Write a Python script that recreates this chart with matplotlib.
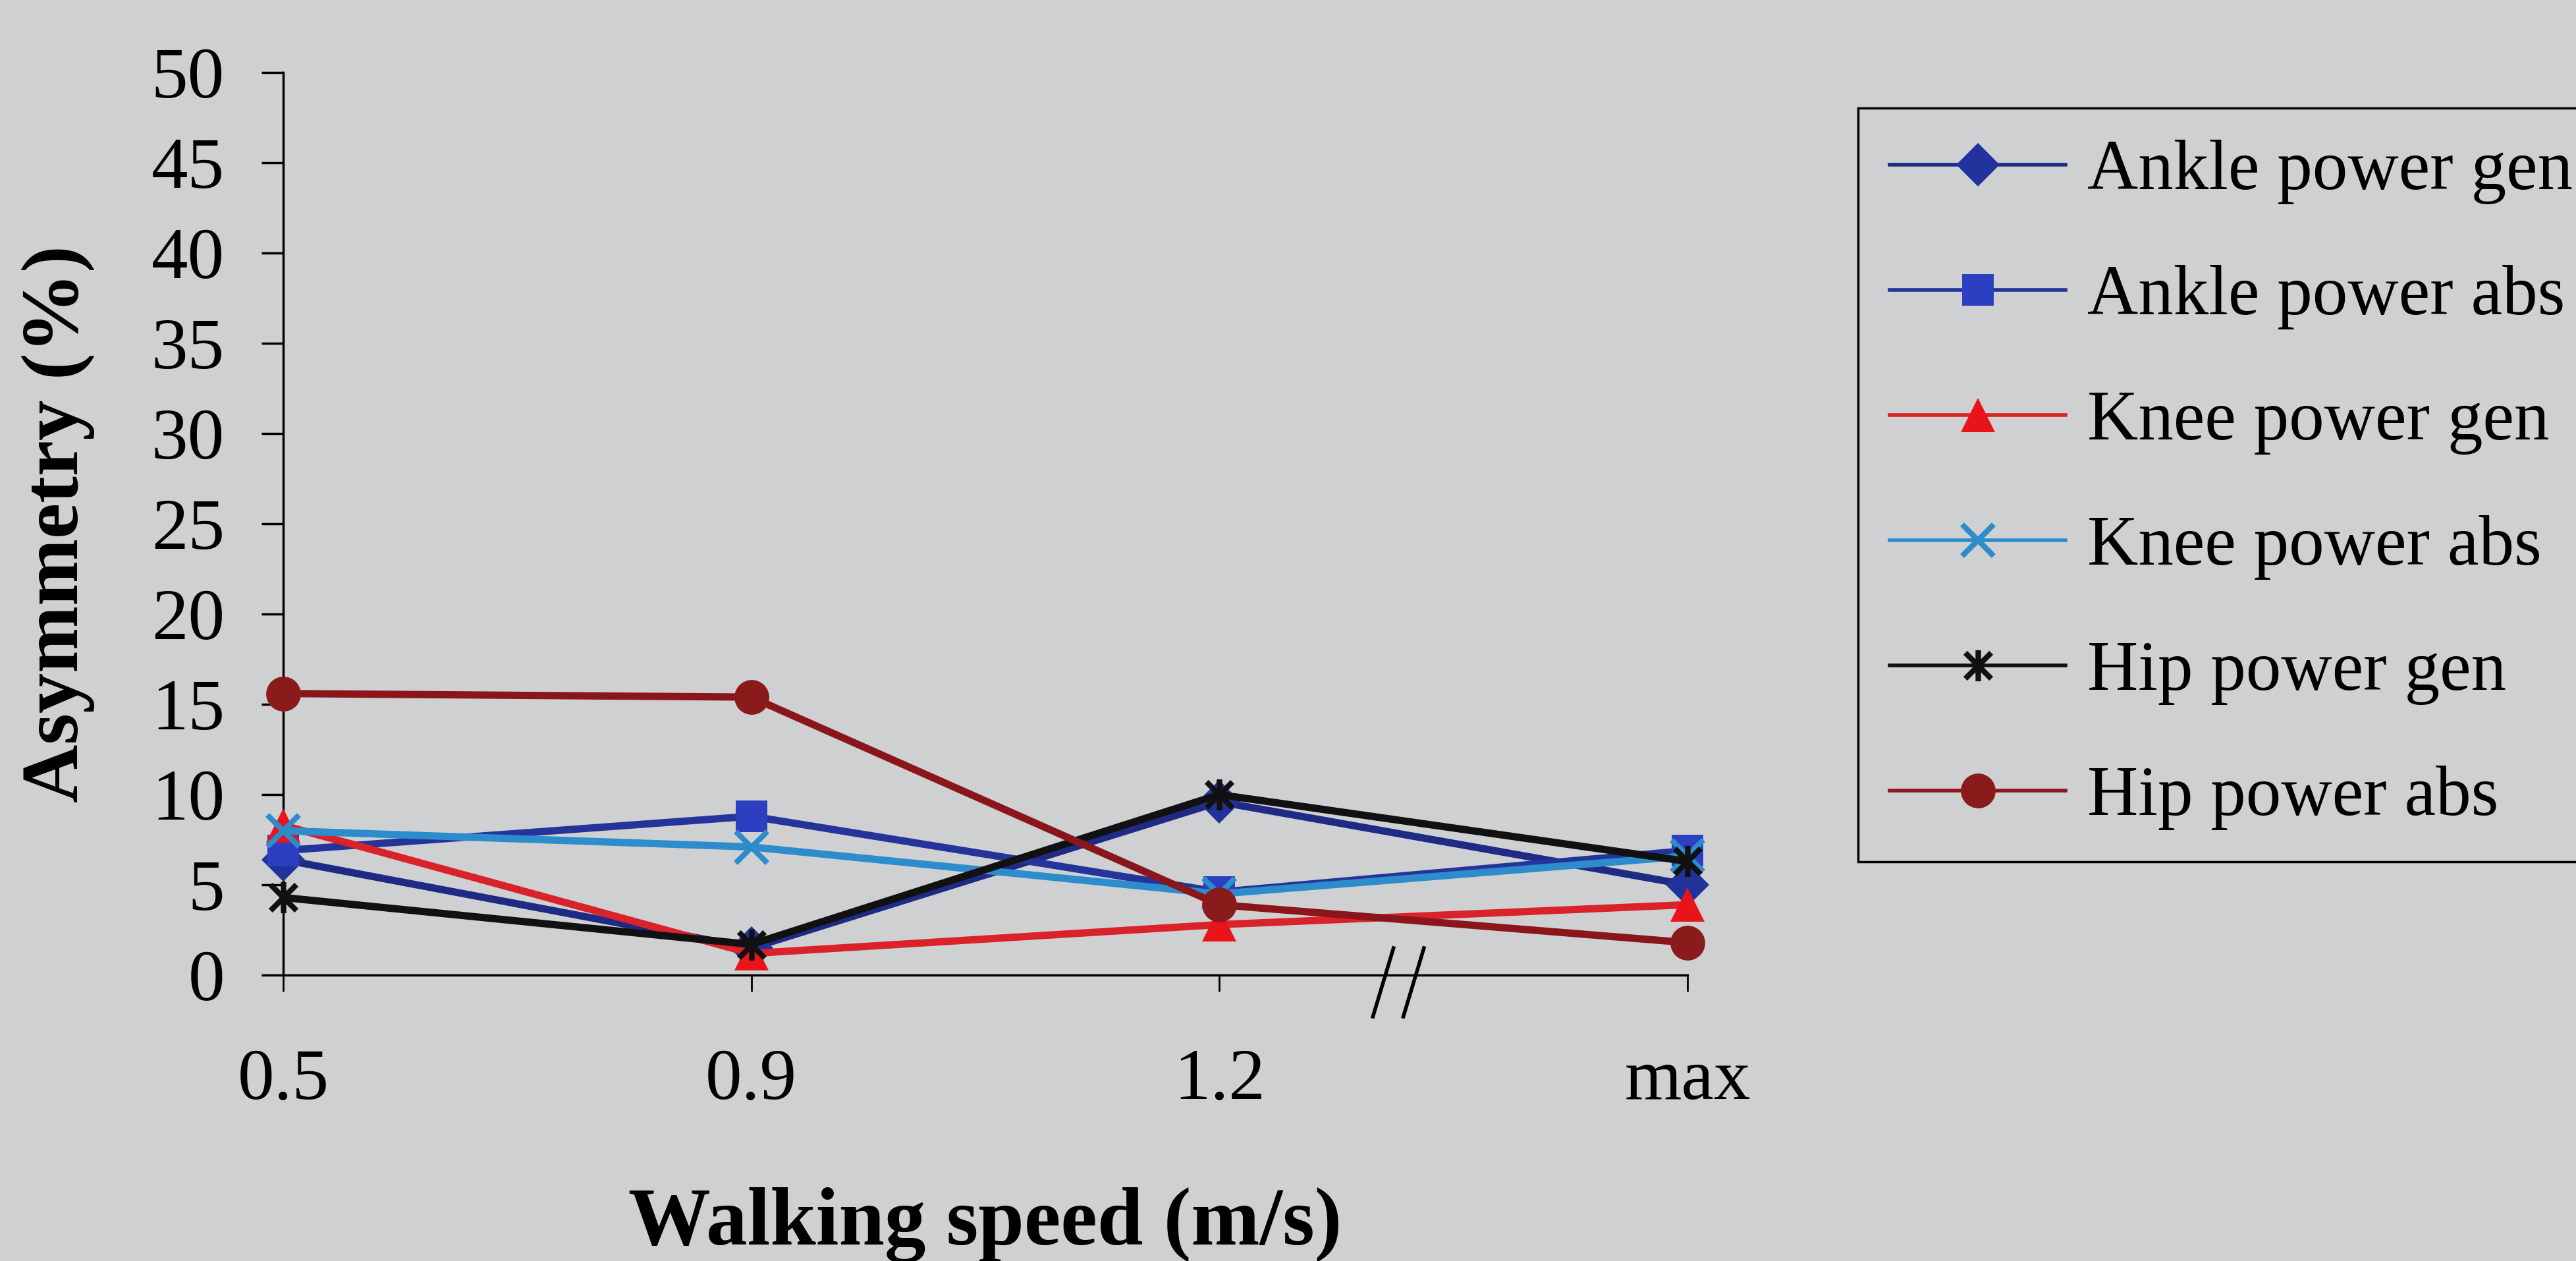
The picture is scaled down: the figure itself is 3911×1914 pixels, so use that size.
import numpy as np
import matplotlib.pyplot as plt
from matplotlib.path import Path

# data
speeds = ["0.5", "0.9", "1.2", "max"]
ankle_gen = [6.4, 1.5, 9.6, 5.0]
ankle_abs = [6.9, 8.8, 4.6, 6.9]
knee_gen = [8.3, 1.2, 2.8, 3.9]
knee_abs = [8.0, 7.1, 4.5, 6.6]
hip_gen = [4.3, 1.7, 10.0, 6.3]
hip_abs = [15.6, 15.4, 3.9, 1.8]
labels = ["Ankle power gen", "Ankle power abs", "Knee power gen",
          "Knee power abs", "Hip power gen", "Hip power abs"]

# excel style star: x with a vertical bar
star = Path([(-1, -1), (1, 1), (-1, 1), (1, -1), (0, -1.2), (0, 1.2)],
            [Path.MOVETO, Path.LINETO, Path.MOVETO, Path.LINETO, Path.MOVETO, Path.LINETO])

bg = "#cfd0d2"
plt.rcParams["font.family"] = ["Liberation Serif", "DejaVu Serif"]

fig = plt.figure(figsize=(39.12, 19.14), dpi=100, facecolor=bg)
ax = fig.add_axes([0.1099, 0.2267, 0.5450, 0.7158])
ax.set_facecolor(bg)

x = np.arange(len(speeds))
styles = [
    (ankle_gen, "#1f2a84", "D", "#22329c", 34, 0),
    (ankle_abs, "#25349a", "s", "#2c3fc0", 34, 0),
    (knee_gen, "#d9222a", "^", "#e8141a", 38, 0),
    (knee_abs, "#2d8ccc", "x", "#2d8ccc", 34, 6),
    (hip_gen, "#111111", star, "#111111", 34, 6),
    (hip_abs, "#8a161c", "o", "#8b1a1a", 38, 0),
]
for (vals, col, mk, mcol, ms, mew), lab in zip(styles, labels):
    ax.plot(x, vals, color=col, lw=8, marker=mk, markersize=ms,
            markerfacecolor=mcol, markeredgecolor=mcol,
            markeredgewidth=mew, label=lab, clip_on=False, zorder=3)

ax.set_xlim(0, 3)
ax.set_ylim(0, 50)
ax.set_yticks(np.arange(0, 51, 5))
ax.set_xticks(x)
ax.set_xticklabels(speeds)
for s in ["top", "right"]:
    ax.spines[s].set_visible(False)
for s in ["left", "bottom"]:
    ax.spines[s].set_linewidth(2.5)
ax.tick_params(axis="y", direction="out", length=24, width=2.5, pad=40, labelsize=80)
ax.tick_params(axis="x", direction="out", length=18, width=2, pad=62, labelsize=80)

ax.set_xlabel("Walking speed (m/s)", fontsize=90, fontweight="bold", labelpad=80)
ax.set_ylabel("Asymmetry (%)", fontsize=88, fontweight="bold", labelpad=62)

# axis break mark between 1.2 and max
for bx in [2.35, 2.415]:
    ax.plot([bx + 0.022, bx - 0.022], [1.5, -2.3], color="black", lw=4,
            clip_on=False, zorder=4)

leg = fig.legend(loc="upper left", bbox_to_anchor=(2821 / 3912, 1 - 164 / 1914),
                 fontsize=77, frameon=True, fancybox=False, edgecolor="black",
                 facecolor=bg, framealpha=1, handlelength=2.5, handletextpad=0.3,
                 labelspacing=0.86, borderpad=0.45, borderaxespad=0)
leg.get_frame().set_linewidth(2.5)
for h in leg.get_lines():
    h.set_linewidth(4)

fig.savefig("out.png", dpi=100, facecolor=bg)
